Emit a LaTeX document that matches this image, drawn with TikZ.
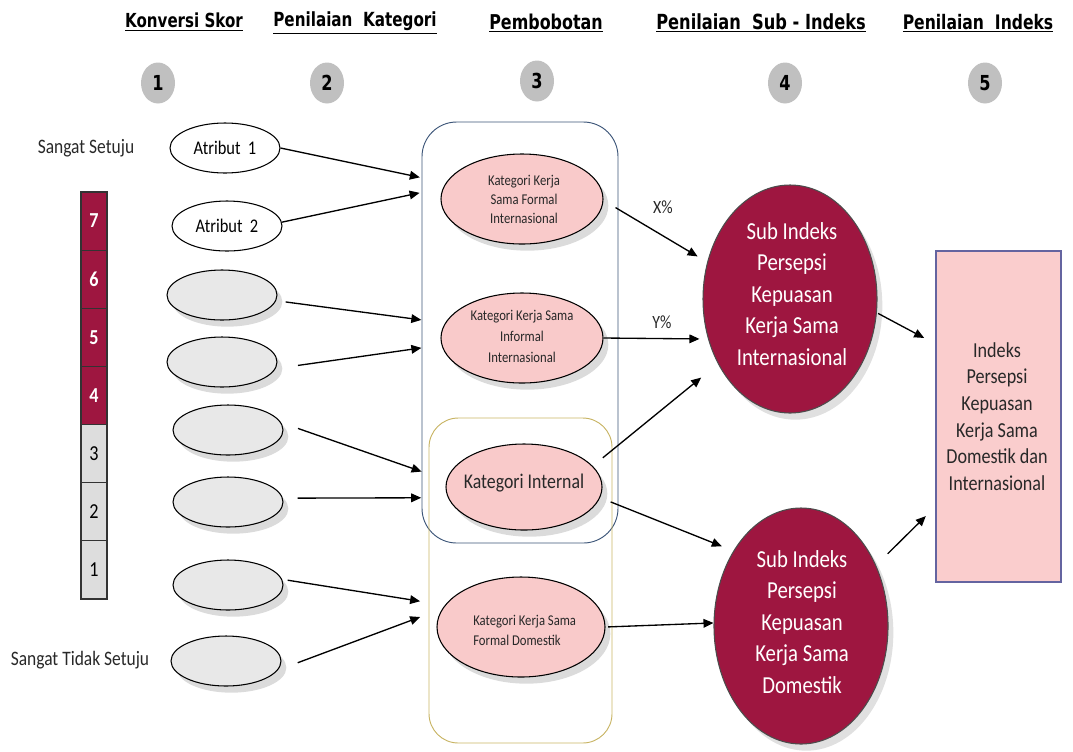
\documentclass[tikz,border=0pt]{standalone}
\usepackage{fontspec}
\usepackage{graphicx}
\setmainfont{Carlito}[FakeStretch=0.85]
\newfontfamily\hdfont{DejaVu Sans}[FakeStretch=0.78]
\usetikzlibrary{shapes.geometric, arrows.meta, shadows}
\definecolor{cMaroon}{RGB}{158,22,64}
\definecolor{cPink}{RGB}{249,202,202}
\definecolor{cIdxFill}{RGB}{250,205,205}
\definecolor{cIdxLine}{RGB}{100,100,160}
\definecolor{cCell}{RGB}{221,221,221}
\definecolor{cEll}{RGB}{232,232,232}
\definecolor{cNum}{RGB}{192,192,192}
\definecolor{cBlue}{RGB}{60,85,120}
\definecolor{cYel}{RGB}{200,180,100}
\definecolor{cTxt}{RGB}{40,40,40}
\tikzset{
  hdr/.style={inner sep=0pt},
  numc/.style={ellipse, fill=cNum, minimum width=25.5pt, minimum height=30.75pt, inner sep=0pt,
    font=\hdfont\bfseries\fontsize{15.5}{17}\selectfont},
  side/.style={font=\fontsize{15.4}{18}\selectfont, text=cTxt, inner sep=0pt},
  cellbase/.style={draw=black!80, line width=0.8pt, minimum width=19.5pt, minimum height=43.6pt, inner sep=0pt,
    font=\fontsize{16}{18}\selectfont},
  cellr/.style={cellbase, fill=cMaroon, text=white, font=\bfseries\fontsize{16}{18}\selectfont},
  cellg/.style={cellbase, fill=cCell, text=black},
  attr/.style={ellipse, draw, line width=0.8pt, fill=white, minimum width=82.5pt, minimum height=37.5pt,
    inner sep=0pt, font=\fontsize{14.5}{16}\selectfont},
  blank/.style={attr, fill=cEll, drop shadow={shadow xshift=4pt, shadow yshift=-5pt, fill=black!14, opacity=1}},
  kat/.style={ellipse, draw, line width=0.8pt, fill=cPink, inner sep=0pt,
    drop shadow={shadow xshift=4pt, shadow yshift=-5pt, fill=black!14, opacity=1}},
  kattxt/.style={inner sep=0pt, align=center, text=cTxt},
  sub/.style={ellipse, draw=black!70, line width=0.8pt, fill=cMaroon, inner sep=0pt,
    drop shadow={shadow xshift=4pt, shadow yshift=-5pt, fill=black!12, opacity=1}},
  subtxt/.style={inner sep=0pt, align=center, text=white, font=\fontsize{18.3}{23.6}\selectfont},
  grp/.style={draw, line width=0.7pt, fill=none, inner sep=0pt},
  arr/.style={-{Triangle[length=7.5pt,width=6.5pt]}, line width=1pt},
  pct/.style={inner sep=0pt, text=cTxt, font=\fontsize{14}{16}\selectfont},
}
\begin{document}
\begin{tikzpicture}[x=0.75pt,y=-0.75pt]
\useasboundingbox (0,0) rectangle (1073,751);
% headers
\node[hdr, font=\hdfont\bfseries\fontsize{14.5}{16}\selectfont] (h1) at (184,22) {\underline{Konversi Skor}};
\node[hdr, font=\hdfont\bfseries\fontsize{14.6}{16}\selectfont] (h2) at (355,23) {\underline{Penilaian\ \ Kategori}};
\node[hdr, font=\hdfont\bfseries\fontsize{15.3}{16}\selectfont] (h3) at (546,23) {\underline{Pembobotan}};
\node[hdr, font=\hdfont\bfseries\fontsize{15.6}{16}\selectfont] (h4) at (761,23) {\underline{Penilaian\ \ Sub - Indeks}};
\node[hdr, font=\hdfont\bfseries\fontsize{15}{16}\selectfont] (h5) at (978,23) {\underline{Penilaian\ \ Indeks}};
% numbered circles
\node[numc] (n1) at (158,83) {1};
\node[numc] (n2) at (327,83) {2};
\node[numc] (n3) at (537,81) {3};
\node[numc] (n4) at (785,83) {4};
\node[numc] (n5) at (985,83) {5};
% side labels
\node[side] (ss) at (86,148) {Sangat Setuju};
\node[side] (sts) at (80,660) {Sangat Tidak Setuju};
% scale bar
\node[cellr] (c7) at (94,221.07) {7};
\node[cellr] (c6) at (94,279.21) {6};
\node[cellr] (c5) at (94,337.36) {5};
\node[cellr] (c4) at (94,395.50) {4};
\node[cellg] (c3) at (94,453.64) {3};
\node[cellg] (c2) at (94,511.79) {2};
\node[cellg] (c1) at (94,569.93) {1};
% group boxes
\node[grp, draw=cBlue, rounded corners=26pt, minimum width=147pt, minimum height=315.75pt] (gint) at (520,332.5) {};
\node[grp, draw=cYel, rounded corners=22pt, minimum width=137.25pt, minimum height=243.75pt] (gdom) at (520.5,580.5) {};
% attribute ellipses
\node[attr] (atr1) at (225,148) {Atribut\ \ 1};
\node[attr] (atr2) at (227,226) {Atribut\ \ 2};
\node[blank] (g1) at (222,295) {};
\node[blank] (g2) at (222,362) {};
\node[blank] (g3) at (228,430) {};
\node[blank] (g4) at (228,502) {};
\node[blank] (g5) at (228,585) {};
\node[blank] (g6) at (226,661) {};
% category ellipses
\node[kat, minimum width=121.5pt, minimum height=67.5pt] (kfi) at (522,199) {};
\node[kattxt, font=\fontsize{11.2}{14.25}\selectfont] (kfit) at (524,199) {Kategori Kerja\\Sama Formal\\Internasional};
\node[kat, minimum width=121.5pt, minimum height=67.5pt] (kii) at (522,338) {};
\node[kattxt, font=\fontsize{11.2}{16}\selectfont] (kiit) at (522,336.5) {Kategori Kerja Sama\\Informal\\Internasional};
\node[kat, minimum width=117pt, minimum height=64.5pt] (kin) at (524,487) {};
\node[kattxt, font=\fontsize{15.7}{18}\selectfont] (kint) at (524,483) {Kategori Internal};
\node[kat, minimum width=126pt, minimum height=75pt] (kfd) at (521,627) {};
\node[kattxt, align=left, anchor=west, font=\fontsize{11.2}{15}\selectfont] (kfdt) at (473,630) {Kategori Kerja Sama\\Formal Domestik};
% sub indices
\node[sub, minimum width=130.5pt, minimum height=171pt] (sint) at (790,299) {};
\node[subtxt] (sintt) at (792,294) {Sub Indeks\\Persepsi\\Kepuasan\\Kerja Sama\\Internasional};
\node[sub, minimum width=130.5pt, minimum height=177pt] (sdom) at (801,626) {};
\node[subtxt] (sdomt) at (802,622) {Sub Indeks\\Persepsi\\Kepuasan\\Kerja Sama\\Domestik};
% index
\node[draw=cIdxLine, fill=cIdxFill, line width=0.8pt, minimum width=93.75pt, minimum height=248.25pt, inner sep=0pt] (idx) at (998.5,416.5) {};
\node[inner sep=0pt, align=center, text=cTxt, font=\fontsize{16}{20}\selectfont] (idxt) at (997,416.5)
  {Indeks\\Persepsi\\Kepuasan\\Kerja Sama\\Domestik dan\\Internasional};
% arrows: attributes -> categories
\draw[arr, shorten >=19.9pt] (atr1.0) -- (kfi.168.5);
\draw[arr, shorten >=17.9pt] (atr2.4) -- (kfi.172.1);
\draw[arr, shorten <=7.2pt, shorten >=17.9pt] (g1.-6.1) -- (kii.169);
\draw[arr, shorten <=16.9pt, shorten >=15.2pt] (g2.-7.8) -- (kii.185.1);
\draw[arr, shorten <=13.4pt, shorten >=19.7pt] (g3.8.7) -- (kin.175.4);
\draw[arr, shorten <=11pt, shorten >=20pt] (g4.4.2) -- (kin.188.3);
\draw[arr, shorten <=4.2pt, shorten >=18.75pt] (g5.6.3) -- (kfd.164.7);
\draw[arr, shorten <=15.9pt, shorten >=17.6pt] (g6.-10.3) -- (kfd.167.8);
% categories -> sub indices
\draw[arr, shorten <=10.5pt, shorten >=8.3pt] (kfi.-1) -- (sint.156.2);
\draw[arr, shorten >=6.4pt] (kii.0) -- (sint.206.1);
\draw[arr, shorten <=9.75pt, shorten >=16.2pt] (kin.17) -- (sint.222.6);
\draw[arr, shorten <=8.5pt, shorten >=9.3pt] (kin.-8.1) -- (sdom.132.3);
\draw[arr, shorten <=2pt] (kfd.0) -- (sdom.178);
% sub indices -> index
\draw[arr, shorten <=1pt, shorten >=9.6pt] (sint.-9) -- (idx.131.8);
\draw[arr, shorten <=12.2pt, shorten >=10.2pt] (sdom.39.9) -- (idx.235.6);
% weights
\node[pct] (xp) at (663,207) {X\%};
\node[pct] (yp) at (662,322) {Y\%};
\end{tikzpicture}
\end{document}
